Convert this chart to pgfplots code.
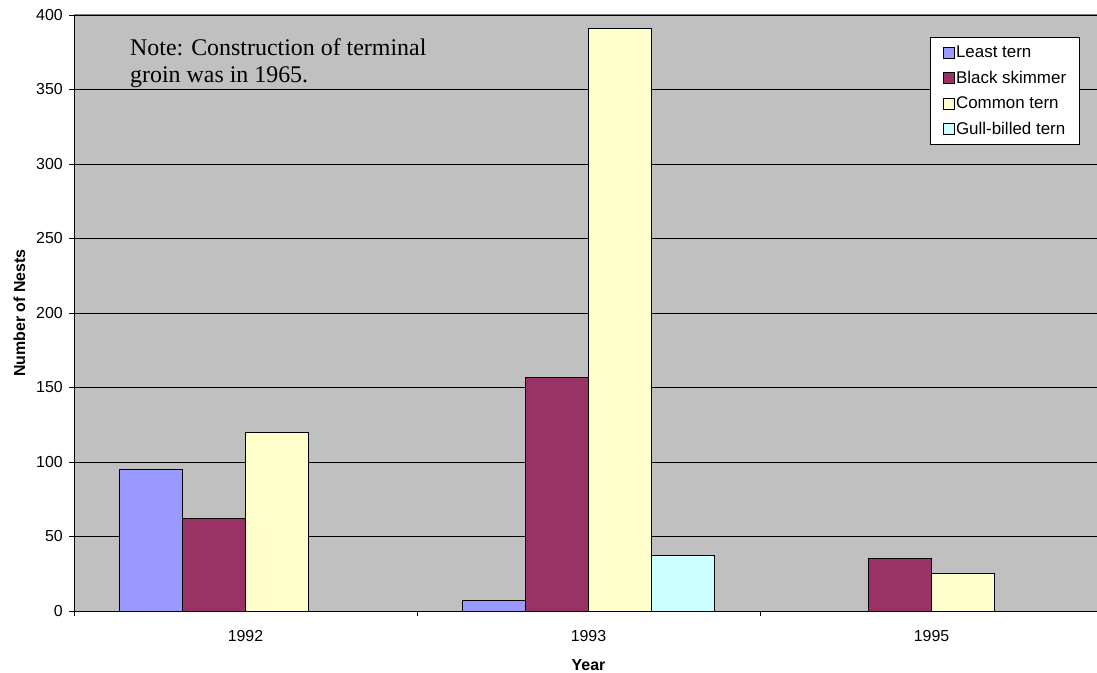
\documentclass[border=0pt]{standalone}
\usepackage{pgfplots}
\pgfplotsset{compat=1.18}
\usepackage{fontspec}
\setmainfont{Liberation Sans}
\newfontfamily\timesfont{Liberation Serif}

\definecolor{plotgray}{HTML}{C0C0C0}
\definecolor{bordergray}{HTML}{808080}
\definecolor{leasttern}{HTML}{9999FF}
\definecolor{skimmer}{HTML}{993366}
\definecolor{commontern}{HTML}{FFFFCC}
\definecolor{gullbilled}{HTML}{CCFFFF}

\begin{document}
\begin{tikzpicture}
\begin{axis}[
    at={(0,0)}, anchor=south west,
    scale only axis,
    width=1029bp, height=596bp,
    ybar=0pt, bar width=63bp,
    xmin=-0.5, xmax=2.5,
    ymin=0, ymax=400,
    ytick={0,50,...,400},
    xtick={-0.5,0.5,1.5,2.5},
    x tick label as interval,
    xticklabels={1992,1993,1995},
    tick pos=left,
    tick align=outside,
    major tick length=5bp,
    tick style={black, line width=0.8bp},
    ymajorgrids,
    grid style={black, line width=0.8bp},
    axis background/.style={fill=plotgray},
    axis line style={draw=none},
    /pgf/number format/assume math mode=true,
    ticklabel style={font=\fontsize{16}{16}\selectfont},
    yticklabel style={inner sep=0pt, xshift=-6bp},
    xticklabel style={inner sep=0pt, anchor=base, yshift=-25bp},
    xlabel={\textbf{Year}},
    ylabel={\textbf{Number of Nests}},
    label style={font=\fontsize{16}{16}\selectfont},
    xlabel style={at={(axis description cs:0.5,-0.099)}, anchor=base},
    ylabel style={at={(axis description cs:-0.0476,0.5)}, anchor=base},
    legend style={
        at={(0.9777,0.963)}, anchor=north east,
        draw=black, fill=white, line width=0.8bp,
        font=\fontsize{17}{17}\selectfont,
        inner xsep=12bp, inner ysep=7bp, row sep=9bp,
        nodes={inner sep=1.5bp},
    },
    legend cell align=left,
    legend image code/.code={
        \draw[#1, draw=black, line width=0.8bp] (0bp,-5.5bp) rectangle (11bp,5.5bp);
    },
]
\addplot[draw=black, line width=0.8bp, fill=leasttern]
    coordinates {(0,95) (1,7)};
\addplot[draw=black, line width=0.8bp, fill=skimmer]
    coordinates {(0,62) (1,157) (2,35)};
\addplot[draw=black, line width=0.8bp, fill=commontern]
    coordinates {(0,120) (1,391) (2,25)};
\addplot[draw=black, line width=0.8bp, fill=gullbilled]
    coordinates {(1,37)};
\legend{Least tern, Black skimmer, Common tern, Gull-billed tern}
\end{axis}
% plot area frame: grey top, black axes left and bottom
\draw[bordergray, line width=1bp] (0bp,596bp) -- (1029bp,596bp);
\draw[black, line width=1bp] (0bp,596bp) -- (0bp,0bp) -- (1029bp,0bp);
% note in the plot area
\node[anchor=base west, inner sep=0pt, font=\timesfont\fontsize{24}{24}\selectfont]
    at (56bp,555bp) {Note: Construction of terminal};
\node[anchor=base west, inner sep=0pt, font=\timesfont\fontsize{24}{24}\selectfont]
    at (56bp,528bp) {groin was in 1965.};
% caption of the figure, almost entirely below the page edge
\node[anchor=base west, inner sep=0pt, font=\bfseries\fontsize{22}{22}\selectfont]
    at (-49bp,-83bp) {Figure III-x. Nesting Counts for the Least Tern, Black Skimmer, Common Tern, and Gull-billed Tern};
\pgfresetboundingbox
\useasboundingbox (-74bp,-62bp) rectangle (1023bp,611bp);
\end{tikzpicture}
\end{document}
